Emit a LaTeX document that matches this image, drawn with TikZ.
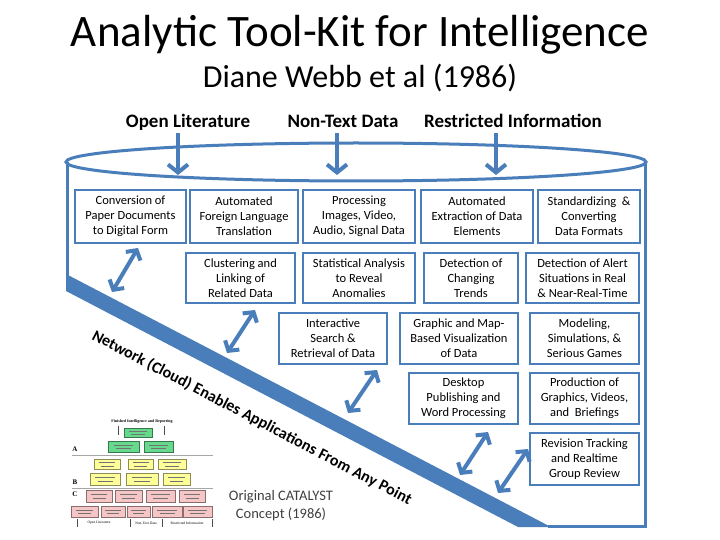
\documentclass[tikz,border=0pt]{standalone}
\usepackage{fontspec}
\setmainfont{Carlito}
\newfontfamily\tmsfont{Liberation Serif}
\usetikzlibrary{arrows.meta,calc}
\definecolor{cblue}{HTML}{4A7EBB}
\definecolor{tgreen}{HTML}{66D98C}
\definecolor{tyellow}{HTML}{FFFF99}
\definecolor{tpink}{HTML}{F6C6C6}
\newcommand\mybox[6]{\node[box,minimum width={(#4-#2)*1pt},minimum height={(#5-#3)*1pt}] (#1) at ({(#2+#4)/2},{(#3+#5)/2}) {#6};}
\newcommand\thumbbox[5]{%
  \filldraw[fill=#5, draw=#5!55!black, line width=0.4pt] (#1,#2) rectangle (#3,#4);
  \draw[black!55, line width=0.45pt] ({#1+0.18*(#3-#1)},{#2+0.36*(#4-#2)}) -- ({#3-0.18*(#3-#1)},{#2+0.36*(#4-#2)});
  \draw[black!55, line width=0.45pt] ({#1+0.25*(#3-#1)},{#2+0.68*(#4-#2)}) -- ({#3-0.25*(#3-#1)},{#2+0.68*(#4-#2)});}
\begin{document}
\begin{tikzpicture}[x=1pt,y=-1pt,
  box/.style={draw=cblue, line width=2.6pt, fill=white, align=center, inner sep=0pt,
    font=\fontsize{12.5}{15}\selectfont},
  lab/.style={font=\fontsize{19}{19}\bfseries\selectfont, anchor=base},
  cyl/.style={draw=cblue, line width=3pt},
  dnarrow/.style={draw=cblue, line width=4pt, -{Straight Barb[length=8pt,width=20pt]}},
  dbl/.style={draw=cblue, line width=4pt, {Straight Barb[length=7pt,width=17pt]}-{Straight Barb[length=7pt,width=17pt]}},
  netword/.style={font=\fontsize{16}{16}\bfseries\selectfont, rotate=-27.6, anchor=base west, inner sep=0pt},
  tiny/.style={font=\tmsfont\fontsize{3.6}{4}\selectfont, inner sep=0pt}]
\useasboundingbox (0,0) rectangle (720,540);
\fill[white] (0,0) rectangle (720,540);

% titles
\node[font=\fontsize{45}{45}\selectfont, anchor=base] (title) at (360,47) {Analytic Tool-Kit for Intelligence};
\node[font=\fontsize{32}{32}\selectfont, anchor=base] (subtitle) at (360,88) {Diane Webb et al (1986)};

% source labels
\node[lab] (lOL) at (188,128) {Open Literature};
\node[lab] (lNT) at (343,128) {Non-Text Data};
\node[lab] (lRI) at (513,128) {Restricted Information};

% cylinder
\draw[cyl] (356,162) ellipse [x radius=290pt, y radius=19pt];
\draw[cyl] (67,162) -- (67,276);
\draw[cyl] (645,162) -- (645,526) -- (548,526);
\fill[cblue] (66,274) -- (551,527) -- (518,527) -- (66,291) -- cycle;

% down arrows
\coordinate (d1s) at (178,133); \coordinate (d1e) at (178,175);
\coordinate (d2s) at (337,133); \coordinate (d2e) at (337,175);
\coordinate (d3s) at (496,133); \coordinate (d3e) at (496,175);
\draw[dnarrow] (d1s) -- (d1e);
\draw[dnarrow] (d2s) -- (d2e);
\draw[dnarrow] (d3s) -- (d3e);

% boxes
\mybox{b1}{75}{190}{186}{243}{Conversion of\\Paper Documents\\to Digital Form}
\mybox{b2}{190}{190}{298}{243}{Automated\\Foreign Language\\Translation}
\mybox{b3}{303}{190}{415}{243}{Processing\\Images, Video,\\Audio, Signal Data}
\mybox{b4}{421}{190}{533}{243}{Automated\\Extraction of Data\\Elements}
\mybox{b5}{538}{190}{640}{243}{Standardizing \ \&\\Converting\\Data Formats}
\mybox{c1}{186}{253}{295}{303}{Clustering and\\Linking of\\Related Data}
\mybox{c2}{303}{253}{415}{303}{Statistical Analysis\\to Reveal\\Anomalies}
\mybox{c3}{424}{253}{518}{303}{Detection of\\Changing\\Trends}
\mybox{c4}{526}{253}{639}{303}{Detection of Alert\\Situations in Real\\\& Near-Real-Time}
\mybox{e1}{279}{313}{387}{364}{Interactive\\Search \&\\Retrieval of Data}
\mybox{e2}{400}{313}{518}{364}{Graphic and Map-\\Based Visualization\\of Data}
\mybox{e3}{530}{313}{639}{364}{Modeling,\\Simulations, \&\\Serious Games}
\mybox{f1}{409}{373}{518}{424}{Desktop\\Publishing and\\Word Processing}
\mybox{f2}{530}{373}{639}{424}{Production of\\Graphics, Videos,\\and \ Briefings}
\mybox{g1}{530}{433}{639}{485}{Revision Tracking\\and Realtime\\Group Review}

% double arrows between boxes and network band
\coordinate (a0s) at (138,248); \coordinate (a0e) at (112,292);
\coordinate (a1s) at (255,310); \coordinate (a1e) at (227,353);
\coordinate (a2s) at (377,370); \coordinate (a2e) at (348,413);
\coordinate (a3s) at (488,432); \coordinate (a3e) at (460,475);
\coordinate (a4s) at (528,449); \coordinate (a4e) at (498,493);
\draw[dbl] (a0s) -- (a0e);
\draw[dbl] (a1s) -- (a1e);
\draw[dbl] (a2s) -- (a2e);
\draw[dbl] (a3s) -- (a3e);
\draw[dbl] (a4s) -- (a4e);

% network text, word by word along the band
\node[netword] (w1) at (91,339) {Network};
\node[netword] (w2) at ($(w1.base east)+(-27.6:3.6pt)$) {(Cloud)};
\node[netword] (w3) at ($(w2.base east)+(-27.6:3.6pt)$) {Enables};
\node[netword] (w4) at ($(w3.base east)+(-27.6:3.6pt)$) {Applications};
\node[netword] (w5) at ($(w4.base east)+(-27.6:3.6pt)$) {From};
\node[netword] (w6) at ($(w5.base east)+(-27.6:3.6pt)$) {Any};
\node[netword] (w7) at ($(w6.base east)+(-27.6:3.6pt)$) {Point};

% original concept caption
\node[align=center, font=\fontsize{14.5}{18}\selectfont, text=black!75] (orig) at (281,506)
  {Original CATALYST\\Concept (1986)};

% thumbnail of the original concept
\node[tiny, font=\tmsfont\bfseries\fontsize{4}{4}\selectfont] (tt) at (142,422) {Finished Intelligence and Reporting};
\draw[black!70, line width=0.5pt] (118,426) -- (118,435);
\draw[black!70, line width=0.5pt] (164,426) -- (164,435);
\thumbbox{124}{428}{152}{437}{tgreen}
\thumbbox{108}{441}{139}{452}{tgreen}
\thumbbox{144}{441}{173}{452}{tgreen}
\node[font=\tmsfont\bfseries\fontsize{7}{7}\selectfont, inner sep=0pt] (tA) at (75,449) {A};
\draw[black!35, line width=0.6pt] (72,455) -- (213,455);
\thumbbox{94}{459}{120}{469}{tyellow}
\thumbbox{128}{459}{153}{469}{tyellow}
\thumbbox{158}{459}{186}{469}{tyellow}
\thumbbox{90}{473}{120}{485}{tyellow}
\thumbbox{126}{473}{158}{485}{tyellow}
\thumbbox{163}{473}{190}{485}{tyellow}
\node[font=\tmsfont\bfseries\fontsize{7}{7}\selectfont, inner sep=0pt] (tB) at (75,482) {B};
\draw[black!35, line width=0.6pt] (72,488) -- (213,488);
\node[font=\tmsfont\bfseries\fontsize{7}{7}\selectfont, inner sep=0pt] (tC) at (75,494) {C};
\thumbbox{86}{490}{112}{502}{tpink}
\thumbbox{115}{490}{142}{502}{tpink}
\thumbbox{146}{490}{175}{502}{tpink}
\thumbbox{179}{490}{205}{502}{tpink}
\thumbbox{71}{506}{98}{517}{tpink}
\thumbbox{101}{506}{125}{517}{tpink}
\thumbbox{127}{506}{150}{517}{tpink}
\thumbbox{152}{506}{182}{517}{tpink}
\thumbbox{183}{506}{212}{517}{tpink}
\draw[black!70, line width=0.5pt] (77,519) -- (77,527);
\draw[black!70, line width=0.5pt] (130,519) -- (130,527);
\draw[black!70, line width=0.5pt] (162,519) -- (162,527);
\draw[black!70, line width=0.5pt] (212,519) -- (212,527);
\node[tiny] (tOL) at (99,523) {Open Literature};
\node[tiny] (tNT) at (146,523) {Non-Text Data};
\node[tiny] (tRI) at (187,523) {Restricted Information};
\end{tikzpicture}
\end{document}
